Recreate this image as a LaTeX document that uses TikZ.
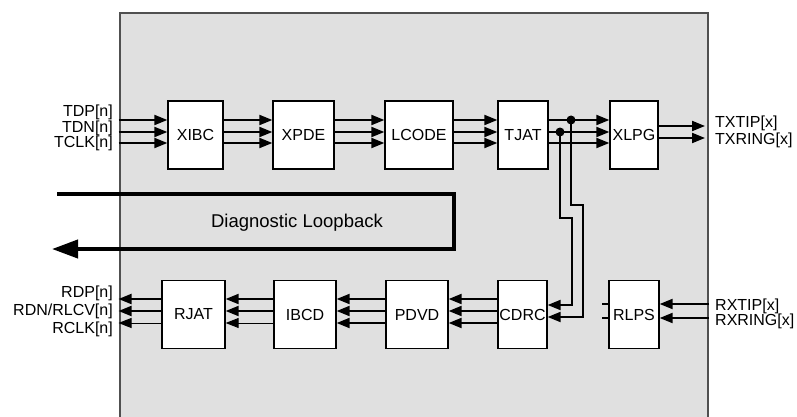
\documentclass[tikz,border=0pt]{standalone}
\usepackage{fontspec}
\setmainfont{Liberation Sans}
\usetikzlibrary{arrows.meta}
\definecolor{chipfill}{HTML}{E0E0E0}
\definecolor{chipline}{HTML}{505050}
\begin{document}
\begin{tikzpicture}[x=1pt,y=-1pt,
  txt/.style={font=\fontsize{16}{18}\selectfont,inner sep=0pt},
  blk/.style={draw=black,fill=white,line width=1.3pt,minimum width=#1,minimum height=68pt,inner sep=0pt,font=\fontsize{16}{18}\selectfont},
  sig/.style={line width=2pt,-{Triangle[length=13pt,width=10pt]}},
  thinsig/.style={line width=1pt,-{Triangle[length=13pt,width=10pt]}},
  wire/.style={line width=2pt},
  loopline/.style={line width=4pt,miter limit=10,-{Triangle[length=26pt,width=18pt]}},
  dotmark/.style={circle,fill=black,inner sep=0pt,minimum size=9pt}]
\useasboundingbox (0,0) rectangle (797,417);
% chip
\node[draw=chipline,fill=chipfill,line width=2pt,minimum width=588.5pt,minimum height=407pt,inner sep=0pt] (chip) at (413.75,216.5) {};
% top row blocks
\node[blk=55pt] (XIBC) at (195.5,135) {XIBC};
\node[blk=61pt] (XPDE) at (303.5,135) {XPDE};
\node[blk=68pt] (LCODE) at (419,135) {LCODE};
\node[blk=50pt] (TJAT) at (523,135) {TJAT};
\node[blk=48pt] (XLPG) at (634,135) {XLPG};
% bottom row blocks
\node[blk=63pt] (RJAT) at (193.5,314.5) {RJAT};
\node[blk=62pt] (IBCD) at (305,314.5) {IBCD};
\node[blk=62pt] (PDVD) at (417,314.5) {PDVD};
\node[blk=49pt] (CDRC) at (522.5,314.5) {CDRC};
\node[blk=50pt] (RLPS) at (634,314.5) {RLPS};
% labels
\node[txt,anchor=base east] (tdp) at (113,117) {TDP[n]};
\node[txt,anchor=base east] (tdn) at (113,132) {TDN[n]};
\node[txt,anchor=base east] (tclk) at (113,147) {TCLK[n]};
\node[txt,anchor=base west] (txtip) at (715,128) {TXTIP[x]};
\node[txt,anchor=base west] (txring) at (715,144) {TXRING[x]};
\node[txt,anchor=base east] (rdp) at (113,297) {RDP[n]};
\node[txt,anchor=base east] (rdn) at (113,315) {RDN/RLCV[n]};
\node[txt,anchor=base east] (rclk) at (113,333) {RCLK[n]};
\node[txt,anchor=base west] (rxtip) at (715,310) {RXTIP[x]};
\node[txt,anchor=base west] (rxring) at (715,325) {RXRING[x]};
\node[txt,font=\fontsize{18.5}{20}\selectfont] (diag) at (297,223) {Diagnostic Loopback};
% top row signals
\foreach \y in {120,132,143} {
  \draw[sig] (chip.west |- 0,\y) -- (XIBC.west |- 0,\y);
  \draw[sig] (XIBC.east |- 0,\y) -- (XPDE.west |- 0,\y);
  \draw[sig] (XPDE.east |- 0,\y) -- (LCODE.west |- 0,\y);
  \draw[sig] (LCODE.east |- 0,\y) -- (TJAT.west |- 0,\y);
  \draw[sig] (TJAT.east |- 0,\y) -- (XLPG.west |- 0,\y);
}
\foreach \y in {126,138} {
  \draw[sig] (XLPG.east |- 0,\y) -- (705,\y);
}
% taps to CDRC
\node[dotmark] (tapA) at (560,132) {};
\node[dotmark] (tapB) at (571,120) {};
\draw[wire,-{Triangle[length=13pt,width=10pt]}] (tapA.center) -- (560,218) -- (572,218) -- (572,305) -- (CDRC.east |- 0,305);
\draw[wire,-{Triangle[length=13pt,width=10pt]}] (tapB.center) -- (571,205) -- (583,205) -- (583,317) -- (CDRC.east |- 0,317);
% bottom row signals
\foreach \y in {299,311,323} {
  \draw[sig] (CDRC.west |- 0,\y) -- (PDVD.east |- 0,\y);
  \draw[sig] (PDVD.west |- 0,\y) -- (IBCD.east |- 0,\y);
}
\foreach \y in {299,311} {
  \draw[sig] (IBCD.west |- 0,\y) -- (RJAT.east |- 0,\y);
  \draw[sig] (RJAT.west |- 0,\y) -- (chip.west |- 0,\y);
}
\draw[thinsig] (IBCD.west |- 0,323) -- (RJAT.east |- 0,323);
\draw[thinsig] (RJAT.west |- 0,323) -- (chip.west |- 0,323);
% RLPS inputs and stubs
\foreach \y in {304,318} {
  \draw[sig] (chip.east |- 0,\y) -- (RLPS.east |- 0,\y);
  \draw[line width=1.5pt] (602,\y) -- (RLPS.west |- 0,\y);
}
% diagnostic loopback
\coordinate (lbs) at (57,194);
\coordinate (lbe) at (52,249);
\draw[loopline] (lbs) -- (454,194) -- (454,249) -- (lbe);
\end{tikzpicture}
\end{document}
